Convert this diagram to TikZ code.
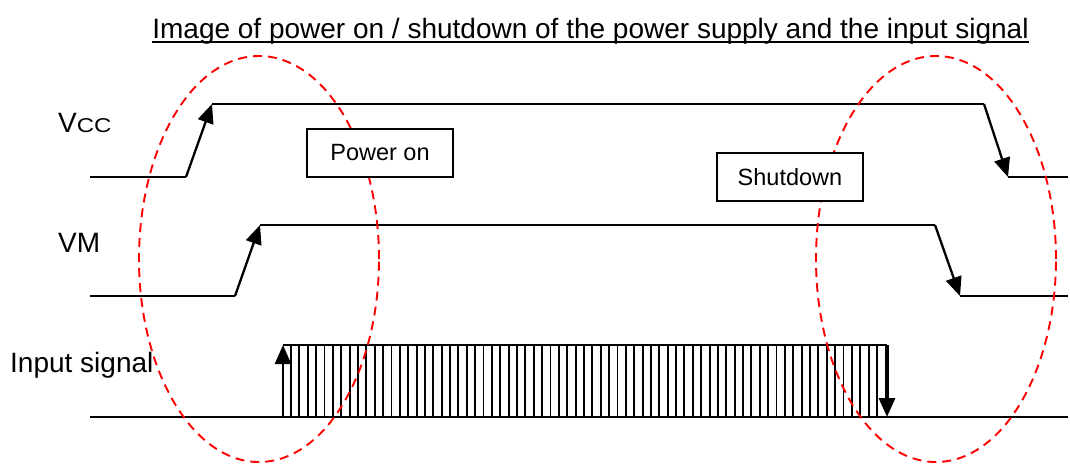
\documentclass[tikz,border=0pt]{standalone}
\usepackage{fontspec}
\setmainfont{Liberation Sans}
\usetikzlibrary{arrows.meta}
\begin{document}
\begin{tikzpicture}[x=1pt,y=-1pt,
  sig/.style={line width=2.3pt, line join=miter},
  tipped/.style={-{Triangle[length=19pt,width=16pt]}},
  hatch/.style={line width=1.9pt},
  ring/.style={red, line width=1.9pt, dash pattern=on 9pt off 6pt},
  lbl/.style={font=\fontsize{28}{28}\selectfont, anchor=base west, inner sep=0pt},
  boxed/.style={draw, fill=white, line width=2pt, minimum width=146pt, minimum height=48pt,
    font=\fontsize{23.5}{23.5}\selectfont, inner sep=0pt}]
\useasboundingbox (0,0) rectangle (1070,464);

% title
\node[font=\fontsize{28}{28}\selectfont, anchor=base, inner sep=0pt] (title) at (590.5,38)
  {Image of power on / shutdown of the power supply and the input signal};
\draw[line width=2pt] ([yshift=-4pt]title.base west) -- ([yshift=-4pt]title.base east);

% labels
\node[lbl] (vcc) at (58,132) {V\scalebox{1.2}[1]{\fontsize{20}{20}\selectfont CC}};
\node[lbl] (vm) at (58,252) {VM};
\node[lbl] (inp) at (10,372) {Input signal};

% Vcc waveform
\coordinate (v0) at (90,177);
\coordinate (v1) at (186,177);
\coordinate (v2) at (212,104);
\coordinate (v3) at (984,104);
\coordinate (v4) at (1008,177);
\coordinate (v5) at (1068,177);
\draw[sig] (v0) -- (v1);
\draw[sig,tipped] (v1) -- (v2);
\draw[sig] (v2) -- (v3);
\draw[sig,tipped] (v3) -- (v4);
\draw[sig] (v4) -- (v5);

% VM waveform
\coordinate (m0) at (90,296);
\coordinate (m1) at (235,296);
\coordinate (m2) at (260,225);
\coordinate (m3) at (935,225);
\coordinate (m4) at (960,296);
\coordinate (m5) at (1068,296);
\draw[sig] (m0) -- (m1);
\draw[sig,tipped] (m1) -- (m2);
\draw[sig] (m2) -- (m3);
\draw[sig,tipped] (m3) -- (m4);
\draw[sig] (m4) -- (m5);

% Input signal
\coordinate (i0) at (90,417);
\coordinate (i5) at (1068,417);
\coordinate (iLb) at (283,417);
\coordinate (iLt) at (283,345);
\coordinate (iRt) at (887,345);
\coordinate (iRb) at (887,417);
\foreach \k in {0,...,70} {
  \draw[hatch] ({291+\k*8.371},345) -- ({291+\k*8.371},417);
}
\draw[sig] (i0) -- (i5);
\draw[sig] (iLt) -- (iRt);
\draw[sig,tipped] (iLb) -- (iLt);
\draw[line width=3.2pt,tipped] (iRt) -- (iRb);

% dashed ellipses
\draw[ring] (259,259) ellipse [x radius=120pt, y radius=203pt];
\draw[ring] (936,259) ellipse [x radius=120pt, y radius=203pt];

% boxes
\node[boxed] (pon) at (380,153) {Power on};
\node[boxed] (sd) at (790,177) {Shutdown};
\end{tikzpicture}
\end{document}
